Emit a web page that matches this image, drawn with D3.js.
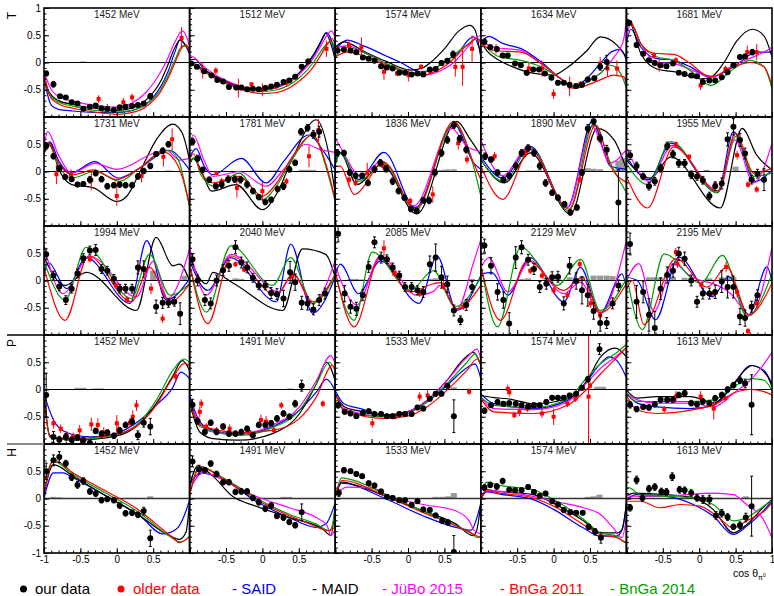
<!DOCTYPE html>
<html>
<head>
<meta charset="utf-8">
<script src="https://cdn.jsdelivr.net/npm/d3@7"></script>
<style>
  body { margin: 0; background: #fff; }
  svg { display: block; }
  text { font-family: "Liberation Sans", Arial, Helvetica, sans-serif; }
</style>
</head>
<body>
<svg id="chart" width="774" height="596"></svg>
<script>
// Panel titles, row by row (5 columns): T, T, T, P, H
const panelTitles = [
  "1452 MeV", "1512 MeV", "1574 MeV", "1634 MeV", "1681 MeV",
  "1731 MeV", "1781 MeV", "1836 MeV", "1890 MeV", "1955 MeV",
  "1994 MeV", "2040 MeV", "2085 MeV", "2129 MeV", "2195 MeV",
  "1452 MeV", "1491 MeV", "1533 MeV", "1574 MeV", "1613 MeV",
  "1452 MeV", "1491 MeV", "1533 MeV", "1574 MeV", "1613 MeV"
];
// Observable shown on the first row of each group
const rowObservables = [[0, "T"], [3, "P"], [4, "H"]];

// Model curves: per panel, list of [cos theta, value]
const said = [
  [[-1,-0.25],[-0.95,-0.6],[-0.9,-0.78],[-0.8,-0.86],[-0.6,-0.89],[-0.2,-0.92],[0.1,-0.91],[0.3,-0.84],[0.5,-0.64],[0.7,-0.18],[0.8,0.2],[0.87,0.42],[0.95,0.3],[1,0.15]],
  [[-1,0.02],[-0.9,-0.05],[-0.8,-0.14],[-0.5,-0.36],[-0.2,-0.48],[0,-0.5],[0.2,-0.45],[0.5,-0.2],[0.7,0.12],[0.8,0.36],[0.88,0.55],[0.95,0.4],[1,0.12]],
  [[-1,0.22],[-0.84,0.41],[-0.6,0.3],[-0.3,0.12],[-0.1,0],[0.17,-0.17],[0.3,-0.15],[0.49,0],[0.7,0.2],[0.85,0.44],[0.9,0.47],[1,0.16]],
  [[-1,0.35],[-0.89,0.48],[-0.7,0.35],[-0.44,0.25],[-0.17,0.01],[0.1,-0.3],[0.28,-0.44],[0.45,-0.3],[0.64,-0.02],[0.8,0.2],[0.92,0.24],[1,0.04]],
  [[-1,0.34],[-0.94,0.61],[-0.8,0.28],[-0.58,0.07],[-0.35,0.04],[-0.12,-0.08],[0.15,-0.27],[0.47,-0.08],[0.79,0.19],[1,0.19]],
  [[-1,0.33],[-0.92,0.55],[-0.8,0.2],[-0.64,-0.03],[-0.3,0.18],[0.02,-0.12],[0.3,0.05],[0.73,0.39],[0.9,0.2],[1,0.03]],
  [[-1,0.27],[-0.91,0.42],[-0.8,0.1],[-0.68,-0.06],[-0.29,0.24],[0.05,-0.21],[0.3,0.2],[0.64,0.67],[0.85,0.35],[1,0.03]],
  [[-1,0.16],[-0.93,0.34],[-0.68,-0.15],[-0.33,0.35],[0.1,-0.66],[0.63,0.88],[0.9,0.16],[1,0.04]],
  [[-1,0.28],[-0.7,-0.12],[-0.32,0.46],[0.19,-0.66],[0.53,0.92],[0.78,0.1],[1,0.04]],
  [[-1,0.27],[-0.69,-0.15],[-0.39,0.52],[0.25,-0.39],[0.47,0.73],[0.77,-0.18],[1,0.03]],
  [[-1,0.12],[-0.94,0.33],[-0.69,-0.15],[-0.42,0.42],[0.18,-0.42],[0.41,0.73],[0.68,-0.36],[1,0.03]],
  [[-1,0.36],[-0.75,-0.18],[-0.44,0.42],[0.19,-0.39],[0.39,0.67],[0.69,-0.6],[1,0.06]],
  [[-1,0.09],[-0.93,0.3],[-0.68,-0.24],[-0.38,0.36],[0.15,-0.42],[0.4,0.45],[0.67,-0.55],[1,0.09]],
  [[-1,0.12],[-0.85,0.15],[-0.63,-0.27],[-0.32,0.42],[0.14,-0.39],[0.37,0.24],[0.64,-0.6],[0.94,0.12],[1,-0.15]],
  [[-1,0.06],[-0.85,0.0],[-0.6,-0.72],[-0.28,0.43],[0.18,-0.3],[0.41,0.07],[0.68,-0.63],[0.93,0.25],[1,0.0]],
  [[-1,-0.08],[-0.87,-0.56],[-0.69,-0.79],[-0.37,-0.87],[0,-0.8],[0.32,-0.56],[0.54,-0.29],[0.77,0.04],[0.88,0.32],[1,0.2]],
  [[-1,-0.11],[-0.86,-0.59],[-0.68,-0.75],[-0.32,-0.82],[0.14,-0.68],[0.51,-0.38],[0.74,-0.05],[0.88,0.19],[1,-0.02]],
  [[-1,-0.02],[-0.88,-0.26],[-0.65,-0.35],[-0.33,-0.47],[-0.01,-0.41],[0.26,-0.23],[0.53,0.07],[0.81,0.4],[0.92,0.47],[1,0.2]],
  [[-1,-0.08],[-0.82,-0.26],[-0.27,-0.35],[0.19,-0.2],[0.46,0.16],[0.64,0.47],[0.76,0.6],[0.87,0.53],[1,0.22]],
  [[-1,-0.07],[-0.85,-0.25],[-0.58,-0.32],[-0.12,-0.35],[0.2,-0.29],[0.47,0.08],[0.7,0.44],[0.89,0.35],[1,0.1]],
  [[-1,0],[-0.87,0.47],[-0.74,0.47],[-0.6,0.38],[-0.14,0.04],[0.32,-0.32],[0.63,-0.65],[0.82,-0.56],[0.95,-0.23],[1,-0.02]],
  [[-1,0.28],[-0.84,0.47],[-0.54,0.35],[-0.09,-0.05],[0.37,-0.35],[0.74,-0.53],[0.87,-0.47],[1,-0.08]],
  [[-1,0.04],[-0.91,0.28],[-0.3,-0.01],[0.21,-0.32],[0.66,-0.53],[0.87,-0.58],[0.94,-0.38],[1,-0.08]],
  [[-1,-0.02],[-0.92,0.12],[-0.74,0.08],[-0.28,-0.02],[0,-0.2],[0.41,-0.54],[0.64,-0.69],[0.87,-0.69],[0.94,-0.57],[1,-0.14]],
  [[-1,-0.02],[-0.86,0.07],[-0.45,0.04],[-0.08,-0.11],[0.19,-0.32],[0.47,-0.66],[0.65,-0.51],[0.92,-0.17],[1,-0.05]]
];

const maid = [
  [[-1,-0.2],[-0.95,-0.48],[-0.9,-0.6],[-0.8,-0.7],[-0.6,-0.77],[-0.3,-0.84],[0,-0.88],[0.2,-0.84],[0.4,-0.69],[0.6,-0.35],[0.7,-0.05],[0.8,0.28],[0.87,0.41],[0.95,0.3],[1,0.2]],
  [[-1,0.05],[-0.93,0.06],[-0.8,-0.12],[-0.5,-0.34],[-0.2,-0.47],[0,-0.49],[0.2,-0.44],[0.5,-0.2],[0.7,0.14],[0.8,0.38],[0.87,0.54],[0.95,0.3],[1,0.05]],
  [[-1,0.28],[-0.88,0.38],[-0.6,0.2],[-0.3,0.02],[0.03,-0.14],[0.2,-0.1],[0.31,0],[0.5,0.25],[0.7,0.58],[0.85,0.68],[0.92,0.6],[1,0.1]],
  [[-1,0.38],[-0.92,0.22],[-0.75,0.04],[-0.56,-0.08],[-0.27,-0.2],[0,-0.23],[0.17,-0.11],[0.46,0.22],[0.64,0.47],[0.87,0.32],[1,0.1]],
  [[-1,0.52],[-0.96,0.73],[-0.8,0.16],[-0.58,-0.12],[-0.3,-0.18],[0.02,-0.3],[0.16,-0.27],[0.34,0.0],[0.52,0.4],[0.73,0.61],[0.89,0.49],[1,0.1]],
  [[-1,0.33],[-0.92,0.52],[-0.8,0.05],[-0.62,-0.24],[-0.32,-0.3],[0,-0.55],[0.14,-0.45],[0.32,0],[0.55,0.6],[0.77,0.87],[0.9,0.7],[1,0.2]],
  [[-1,0.15],[-0.95,0.24],[-0.85,0.05],[-0.7,-0.36],[-0.36,-0.24],[0,-0.7],[0.2,-0.4],[0.4,0.2],[0.74,0.95],[0.9,0.4],[1,-0.4]],
  [[-1,0.16],[-0.93,0.34],[-0.7,-0.24],[-0.36,0.13],[0.12,-0.78],[0.67,0.92],[0.85,0.6],[1,0.3]],
  [[-1,0.22],[-0.68,-0.21],[-0.32,0.34],[0.23,-0.78],[0.6,0.79],[0.83,0.58],[1,0.04]],
  [[-1,0.21],[-0.67,-0.12],[-0.39,0.27],[0.29,-0.67],[0.59,0.79],[0.79,0.3],[1,0.03]],
  [[-1,0.42],[-0.71,-0.09],[-0.42,0.15],[0.27,-0.55],[0.54,0.79],[0.77,0.27],[0.86,0.3],[1,0]],
  [[-1,0.42],[-0.77,-0.06],[-0.68,0.15],[-0.4,-0.05],[0.28,-0.55],[0.55,0.58],[0.87,0.48],[1,0.06]],
  null, null, null,
  [[-1,-0.05],[-0.92,-0.84],[-0.6,-0.93],[0,-0.85],[0.32,-0.62],[0.54,-0.26],[0.77,0.25],[0.9,0.53],[1,0.35]],
  [[-1,-0.23],[-0.86,-0.78],[-0.68,-0.9],[-0.32,-0.93],[0.14,-0.81],[0.51,-0.44],[0.74,0.1],[0.88,0.5],[1,0.16]],
  [[-1,-0.08],[-0.88,-0.31],[-0.65,-0.4],[-0.33,-0.47],[-0.01,-0.41],[0.26,-0.2],[0.53,0.16],[0.76,0.55],[0.9,0.68],[1,0.45]],
  [[-1,-0.11],[-0.82,-0.15],[-0.63,-0.17],[-0.27,-0.26],[0.19,-0.17],[0.46,0.16],[0.64,0.59],[0.85,0.76],[1,0.6]],
  [[-1,-0.01],[-0.85,-0.16],[-0.58,-0.13],[-0.12,-0.13],[0.2,-0.25],[0.47,0.11],[0.73,0.44],[0.93,0.26],[1,0.05]],
  [[-1,0.1],[-0.87,0.62],[-0.6,0.41],[-0.14,0.04],[0.32,-0.32],[0.68,-0.65],[0.86,-0.75],[0.95,-0.62],[1,-0.05]],
  [[-1,0.22],[-0.89,0.6],[-0.68,0.41],[-0.41,0.04],[-0.09,-0.14],[0.37,-0.35],[0.83,-0.56],[0.94,-0.68],[1,-0.14]],
  [[-1,0.03],[-0.91,0.3],[-0.71,0.24],[-0.3,0.04],[0.21,-0.23],[0.66,-0.47],[0.89,-0.68],[0.94,-0.6],[1,-0.1]],
  [[-1,0.0],[-0.92,0.16],[-0.74,0.13],[-0.28,0.07],[0,-0.09],[0.41,-0.41],[0.64,-0.63],[0.87,-0.63],[0.94,-0.57],[1,-0.08]],
  [[-1,0.05],[-0.9,0.1],[-0.45,0.07],[-0.08,0.01],[0.19,-0.2],[0.47,-0.63],[0.65,-0.48],[0.92,-0.11],[1,-0.02]]
];

const jubo = [
  [[-1,-0.15],[-0.95,-0.35],[-0.9,-0.5],[-0.8,-0.62],[-0.6,-0.71],[-0.3,-0.79],[0,-0.82],[0.2,-0.75],[0.4,-0.55],[0.6,-0.18],[0.7,0.08],[0.8,0.38],[0.9,0.58],[0.95,0.5],[1,0.3]],
  [[-1,0.13],[-0.95,0.1],[-0.8,-0.08],[-0.5,-0.33],[-0.2,-0.47],[0,-0.5],[0.2,-0.46],[0.5,-0.23],[0.7,0.08],[0.8,0.3],[0.95,0.58],[1,0.45]],
  [[-1,0.25],[-0.84,0.31],[-0.6,0.18],[-0.3,-0.02],[0.21,-0.23],[0.45,-0.15],[0.63,0],[0.8,0.25],[0.95,0.47],[1,0.5]],
  [[-1,0.4],[-0.82,0.28],[-0.45,0.22],[-0.17,-0.02],[0.1,-0.3],[0.28,-0.47],[0.45,-0.35],[0.64,-0.2],[0.83,0.1],[0.96,0.41],[1,0.77]],
  [[-1,0.46],[-0.94,0.7],[-0.8,0.34],[-0.58,0.0],[-0.35,-0.02],[-0.03,-0.18],[0.16,-0.27],[0.47,-0.05],[0.79,0.13],[0.93,0.22],[1,0.28]],
  [[-1,0.45],[-0.95,0.73],[-0.8,0.3],[-0.62,-0.03],[-0.3,0.15],[0,0.04],[0.5,0.33],[0.68,0.39],[0.86,0.21],[1,0.24]],
  [[-1,0.45],[-0.95,0.67],[-0.8,0.2],[-0.68,-0.09],[-0.5,-0.05],[-0.32,0.0],[0.05,-0.27],[0.3,0.05],[0.6,0.5],[0.8,0.4],[1,0.35]],
  [[-1,0.61],[-0.93,0.45],[-0.65,-0.08],[-0.36,0.19],[0.08,-0.63],[0.6,0.79],[0.81,0.46],[1,0.37]],
  [[-1,0.58],[-0.7,-0.08],[-0.34,0.46],[0.19,-0.66],[0.53,0.82],[0.78,0.16],[1,0.4]],
  [[-1,0.45],[-0.69,-0.18],[-0.37,0.48],[0.27,-0.36],[0.49,0.58],[0.75,-0.21],[1,0.52]],
  [[-1,0.64],[-0.74,-0.24],[-0.37,0.45],[0.27,-0.3],[0.5,0.35],[0.7,-0.33],[1,0.58]],
  [[-1,0.61],[-0.77,-0.27],[-0.43,0.48],[0.23,-0.21],[0.42,0.12],[0.69,-0.42],[1,0.36]],
  [[-1,0.27],[-0.7,-0.45],[-0.38,0.45],[0.12,-0.27],[0.35,-0.2],[0.44,-0.09],[0.67,-0.53],[0.9,0.33],[1,0.75]],
  [[-1,0.24],[-0.89,0.42],[-0.63,-0.21],[-0.32,0.36],[0.14,-0.24],[0.37,-0.03],[0.64,-0.6],[1,0.73]],
  [[-1,0.0],[-0.83,0.31],[-0.62,-0.57],[-0.35,0.31],[-0.12,0.08],[0.3,-0.12],[0.43,-0.24],[0.7,-0.63],[1,0.61]],
  null,
  [[-1,-0.17],[-0.86,-0.62],[-0.68,-0.78],[-0.32,-0.81],[0.14,-0.65],[0.51,-0.32],[0.74,0.16],[0.94,0.62],[1,0.47]],
  [[-1,-0.08],[-0.88,-0.35],[-0.33,-0.49],[-0.01,-0.41],[0.26,-0.2],[0.53,0.16],[0.81,0.59],[0.95,0.74],[1,0.55]],
  [[-1,-0.14],[-0.82,-0.35],[-0.27,-0.37],[0.19,-0.23],[0.46,0.13],[0.64,0.38],[0.87,0.62],[1,0.77]],
  [[-1,-0.07],[-0.85,-0.19],[-0.58,-0.25],[-0.12,-0.25],[0.2,-0.32],[0.47,-0.07],[0.7,0.17],[0.89,0.47],[1,0.68]],
  null,
  [[-1,0.16],[-0.82,0.47],[-0.54,0.35],[-0.09,0.04],[0.37,-0.17],[0.74,-0.35],[0.89,-0.5],[0.94,-0.68],[1,-0.56]],
  [[-1,0.04],[-0.84,0.21],[-0.48,0.19],[-0.3,0.07],[0.21,-0.11],[0.66,-0.23],[0.84,-0.41],[0.91,-0.59],[1,-0.65]],
  [[-1,0.0],[-0.92,0.15],[-0.74,0.13],[-0.28,0.04],[0,-0.05],[0.41,-0.17],[0.64,-0.29],[0.82,-0.54],[0.94,-0.72],[1,-0.33]],
  [[-1,0.05],[-0.81,0.04],[-0.45,0.04],[-0.17,0.07],[0.19,0.1],[0.47,0.07],[0.65,-0.11],[0.88,-0.38],[1,-0.72]]
];

const bnga2011 = [
  [[-1,-0.22],[-0.95,-0.52],[-0.9,-0.66],[-0.8,-0.76],[-0.6,-0.84],[-0.3,-0.91],[0,-0.95],[0.2,-0.92],[0.4,-0.81],[0.6,-0.54],[0.7,-0.3],[0.8,0],[0.9,0.28],[0.95,0.33],[1,0.22]],
  [[-1,0],[-0.9,-0.08],[-0.8,-0.16],[-0.5,-0.37],[-0.2,-0.53],[0,-0.57],[0.2,-0.55],[0.5,-0.35],[0.7,-0.08],[0.8,0.13],[0.9,0.35],[0.96,0.44],[1,0.3]],
  [[-1,0.1],[-0.84,0.19],[-0.6,0.12],[-0.3,-0.05],[0.17,-0.23],[0.4,-0.15],[0.57,0],[0.8,0.3],[0.95,0.44],[1,0.35]],
  [[-1,0.35],[-0.82,0.22],[-0.45,0.19],[-0.17,-0.02],[0.1,-0.3],[0.28,-0.47],[0.64,-0.32],[0.82,-0.23],[0.96,-0.26],[1,-0.38]],
  [[-1,0.64],[-0.95,0.75],[-0.8,0.34],[-0.62,0.17],[-0.35,0.15],[-0.12,-0.02],[0.11,-0.24],[0.2,-0.25],[0.47,-0.08],[0.7,0],[0.89,-0.08],[1,-0.42]],
  [[-1,0.33],[-0.94,0.52],[-0.8,0.15],[-0.6,-0.06],[-0.32,0.03],[0,-0.15],[0.3,0.05],[0.63,0.36],[0.8,0.2],[0.9,-0.1],[1,-0.64]],
  [[-1,0.21],[-0.95,0.33],[-0.85,0.0],[-0.68,-0.21],[-0.32,-0.09],[0,-0.45],[0.2,-0.2],[0.4,0.25],[0.69,0.67],[0.88,0.1],[1,-0.5]],
  [[-1,0.1],[-0.93,0.1],[-0.74,-0.42],[-0.33,0.17],[0.1,-0.69],[0.63,0.92],[0.9,0.16],[1,-0.15]],
  [[-1,0.1],[-0.7,-0.51],[-0.32,0.4],[0.21,-0.69],[0.58,0.85],[0.78,0.1],[1,-0.2]],
  [[-1,-0.09],[-0.71,-0.67],[-0.35,0.45],[0.25,-0.36],[0.5,0.7],[0.75,-0.03],[1,0.06]],
  [[-1,0.24],[-0.71,-0.73],[-0.39,0.45],[0.2,-0.39],[0.45,0.24],[0.73,-0.39],[1,-0.06]],
  [[-1,0.3],[-0.75,-0.79],[-0.43,0.45],[0.19,-0.27],[0.42,0.12],[0.69,-0.39],[1,0.12]],
  [[-1,0.18],[-0.74,-0.85],[-0.38,0.42],[0.03,-0.21],[0.35,-0.06],[0.44,-0.04],[0.67,-0.52],[1,-0.09]],
  [[-1,0.27],[-0.73,-0.73],[-0.36,0.36],[0.14,-0.18],[0.39,0.06],[0.64,-0.59],[1,-0.06]],
  [[-1,-0.18],[-0.92,0.0],[-0.76,-0.81],[-0.32,0.4],[0.11,-0.12],[0.38,0.25],[0.68,-0.63],[1,-0.05]],
  [[-1,-0.14],[-0.92,-0.87],[-0.6,-0.9],[0,-0.82],[0.32,-0.62],[0.54,-0.29],[0.77,0.22],[0.93,0.48],[1,0.44]],
  [[-1,-0.2],[-0.86,-0.65],[-0.32,-0.79],[0.14,-0.75],[0.51,-0.53],[0.74,-0.14],[0.96,0.44],[1,0.35]],
  [[-1,-0.08],[-0.88,-0.38],[-0.33,-0.53],[-0.01,-0.49],[0.26,-0.32],[0.53,-0.02],[0.81,0.35],[0.95,0.56],[1,0.45]],
  [[-1,-0.17],[-0.82,-0.41],[-0.27,-0.44],[0.19,-0.29],[0.46,0.01],[0.64,0.28],[0.87,0.59],[1,0.77]],
  [[-1,-0.1],[-0.85,-0.38],[-0.58,-0.44],[-0.12,-0.38],[0.25,-0.25],[0.47,-0.07],[0.7,0],[0.89,-0.04],[1,-0.1]],
  [[-1,0.05],[-0.87,0.71],[-0.6,0.47],[-0.14,0.13],[0.32,-0.23],[0.54,-0.47],[0.77,-0.72],[0.86,-0.81],[1,-0.7]],
  [[-1,0.05],[-0.86,0.58],[-0.54,0.36],[-0.09,-0.02],[0.6,-0.44],[0.92,-0.59],[0.99,-0.53],[1,-0.3]],
  [[-1,0.03],[-0.91,0.33],[-0.3,0.04],[0.21,-0.26],[0.66,-0.5],[0.89,-0.65],[1,-0.72]],
  [[-1,0.0],[-0.92,0.14],[-0.74,0.1],[-0.28,0.01],[0,-0.14],[0.41,-0.48],[0.64,-0.66],[0.87,-0.72],[1,-0.81]],
  [[-1,-0.05],[-0.81,-0.05],[-0.54,-0.17],[-0.26,-0.11],[0.01,-0.14],[0.24,-0.32],[0.47,-0.54],[0.65,-0.41],[0.92,-0.2],[1,-0.08]]
];

const bnga2014 = [
  [[-1,-0.22],[-0.95,-0.5],[-0.9,-0.63],[-0.8,-0.73],[-0.6,-0.8],[-0.3,-0.88],[0,-0.91],[0.2,-0.88],[0.4,-0.77],[0.6,-0.5],[0.7,-0.25],[0.8,0.05],[0.9,0.3],[0.95,0.3],[1,0.2]],
  [[-1,0],[-0.9,-0.08],[-0.8,-0.17],[-0.5,-0.39],[-0.2,-0.5],[0,-0.53],[0.2,-0.5],[0.5,-0.29],[0.7,0.0],[0.8,0.2],[0.9,0.36],[0.95,0.38],[1,0.25]],
  [[-1,0.1],[-0.86,0.28],[-0.6,0.18],[-0.3,-0.02],[0.12,-0.2],[0.35,-0.12],[0.49,0],[0.8,0.31],[0.95,0.44],[1,0.4]],
  [[-1,0.38],[-0.74,0.1],[-0.45,0.04],[-0.17,-0.08],[0.1,-0.3],[0.28,-0.44],[0.64,-0.2],[0.78,-0.05],[0.92,-0.2],[1,-0.47]],
  [[-1,0.58],[-0.95,0.73],[-0.8,0.34],[-0.58,0.1],[-0.35,0.04],[-0.12,-0.15],[0.16,-0.42],[0.47,-0.12],[0.7,0.04],[0.89,-0.08],[1,-0.48]],
  [[-1,0.33],[-0.94,0.5],[-0.8,0.1],[-0.62,-0.12],[-0.3,0],[0.04,-0.18],[0.3,0.05],[0.7,0.39],[0.85,0.2],[0.93,-0.2],[1,-0.64]],
  [[-1,0.15],[-0.93,0.25],[-0.85,-0.05],[-0.66,-0.27],[-0.32,-0.03],[0,-0.52],[0.2,-0.25],[0.4,0.2],[0.69,0.67],[0.88,0.05],[1,-0.55]],
  [[-1,0.1],[-0.93,0.34],[-0.68,-0.18],[-0.34,0.16],[0.1,-0.72],[0.63,0.88],[0.9,0.1],[1,-0.45]],
  [[-1,0.22],[-0.69,-0.18],[-0.32,0.43],[0.21,-0.72],[0.55,0.88],[0.78,0.16],[1,-0.39]],
  [[-1,0.15],[-0.71,-0.24],[-0.39,0.55],[0.25,-0.39],[0.5,0.64],[0.75,-0.09],[1,-0.03]],
  [[-1,0.36],[-0.71,-0.36],[-0.42,0.61],[0.2,-0.33],[0.45,0.48],[0.73,-0.27],[1,-0.06]],
  [[-1,0.3],[-0.77,-0.58],[-0.43,0.64],[0.14,-0.09],[0.39,0.42],[0.69,-0.42],[1,0.09]],
  [[-1,0.12],[-0.74,-0.73],[-0.49,0.52],[0.03,-0.18],[0.35,0.18],[0.65,-0.48],[1,0.06]],
  [[-1,0.3],[-0.77,-0.85],[-0.45,0.61],[0.05,-0.09],[0.37,0.39],[0.64,-0.55],[1,0.03]],
  [[-1,0.12],[-0.78,-0.9],[-0.48,0.49],[0.02,-0.05],[0.32,0.46],[0.66,-0.66],[1,0.12]],
  [[-1,-0.14],[-0.92,-0.87],[-0.6,-0.92],[0,-0.83],[0.32,-0.59],[0.54,-0.2],[0.77,0.35],[0.92,0.56],[1,0.5]],
  [[-1,-0.2],[-0.86,-0.68],[-0.32,-0.84],[0.14,-0.7],[0.51,-0.38],[0.74,0.1],[0.92,0.5],[1,0.35]],
  [[-1,-0.05],[-0.88,-0.38],[-0.33,-0.5],[-0.01,-0.44],[0.26,-0.23],[0.53,0.1],[0.81,0.5],[0.92,0.65],[1,0.45]],
  [[-1,-0.14],[-0.82,-0.29],[-0.27,-0.33],[0.19,-0.17],[0.46,0.22],[0.64,0.47],[0.87,0.68],[1,0.83]],
  [[-1,-0.07],[-0.85,-0.22],[-0.58,-0.22],[-0.12,-0.22],[0.2,-0.19],[0.47,0.05],[0.73,0.2],[0.89,0.17],[1,-0.01]],
  [[-1,0.28],[-0.87,0.68],[-0.6,0.44],[-0.14,0.09],[0.32,-0.27],[0.68,-0.65],[0.88,-0.8],[1,-0.69]],
  [[-1,0.07],[-0.86,0.59],[-0.54,0.38],[-0.09,0.01],[0.37,-0.29],[0.74,-0.47],[0.92,-0.59],[0.96,-0.5],[1,-0.11]],
  [[-1,0.04],[-0.91,0.38],[-0.71,0.32],[-0.3,0.07],[0.21,-0.23],[0.66,-0.5],[0.89,-0.65],[0.95,-0.72],[1,-0.68]],
  [[-1,0.1],[-0.92,0.3],[-0.74,0.24],[-0.28,0.16],[0,-0.02],[0.41,-0.38],[0.64,-0.63],[0.87,-0.69],[0.94,-0.78],[1,-0.81]],
  [[-1,0.15],[-0.97,0.2],[-0.81,0.07],[-0.45,0.04],[-0.08,0.01],[0.19,-0.11],[0.47,-0.41],[0.65,-0.35],[0.92,-0.11],[1,-0.05]]
];

// Measurements: [cos theta, value, error]
const ourData = [
  [[-0.97,-0.2,0.04],[-0.87,-0.4,0.05],[-0.78,-0.62,0.03],[-0.7,-0.64,0.03],[-0.62,-0.73,0.03],[-0.54,-0.75,0.03],[-0.46,-0.85,0.03],[-0.37,-0.81,0.03],[-0.29,-0.79,0.03],[-0.21,-0.84,0.03],[-0.13,-0.85,0.03],[-0.04,-0.87,0.03],[0.04,-0.82,0.03],[0.12,-0.81,0.03],[0.21,-0.8,0.03],[0.29,-0.78,0.03],[0.37,-0.75,0.03],[0.46,-0.62,0.05]],
  [[-0.98,-0.02,0.03],[-0.9,-0.08,0.03],[-0.8,-0.16,0.03],[-0.7,-0.24,0.03],[-0.62,-0.32,0.03],[-0.54,-0.35,0.03],[-0.46,-0.45,0.03],[-0.36,-0.46,0.03],[-0.29,-0.46,0.03],[-0.21,-0.49,0.03],[-0.13,-0.48,0.03],[-0.05,-0.49,0.03],[0.04,-0.47,0.03],[0.12,-0.44,0.03],[0.2,-0.41,0.03],[0.29,-0.36,0.03],[0.37,-0.33,0.03],[0.45,-0.26,0.03],[0.54,-0.08,0.03],[0.63,0.02,0.04]],
  [[-0.97,0.22,0.04],[-0.88,0.24,0.03],[-0.79,0.22,0.03],[-0.71,0.19,0.03],[-0.62,0.09,0.03],[-0.54,0.07,0.03],[-0.46,0.03,0.03],[-0.37,-0.07,0.03],[-0.29,-0.09,0.03],[-0.21,-0.11,0.03],[-0.12,-0.19,0.03],[-0.04,-0.19,0.03],[0.05,-0.22,0.03],[0.13,-0.2,0.03],[0.21,-0.22,0.03],[0.3,-0.13,0.03],[0.38,-0.12,0.04],[0.46,-0.01,0.04],[0.54,0.03,0.04],[0.62,0.15,0.06]],
  [[-0.95,0.38,0.05],[-0.87,0.28,0.04],[-0.78,0.25,0.04],[-0.7,0.13,0.03],[-0.63,0.13,0.03],[-0.53,-0.02,0.03],[-0.45,-0.05,0.03],[-0.37,-0.19,0.04],[-0.28,-0.13,0.03],[-0.2,-0.13,0.03],[-0.12,-0.2,0.03],[-0.03,-0.28,0.03],[0.06,-0.37,0.04],[0.14,-0.37,0.04],[0.22,-0.41,0.04],[0.31,-0.43,0.04],[0.39,-0.41,0.04],[0.47,-0.31,0.04],[0.56,-0.29,0.04],[0.64,-0.08,0.06],[0.73,0.01,0.12]],
  [[-0.96,0.73,0.04],[-0.86,0.32,0.04],[-0.77,0.16,0.03],[-0.69,0.04,0.03],[-0.61,-0.01,0.03],[-0.53,-0.05,0.03],[-0.45,-0.07,0.03],[-0.36,-0.02,0.03],[-0.28,-0.19,0.03],[-0.2,-0.21,0.03],[-0.11,-0.24,0.03],[-0.03,-0.25,0.03],[0.05,-0.36,0.03],[0.14,-0.33,0.03],[0.22,-0.33,0.03],[0.31,-0.27,0.03],[0.39,-0.18,0.03],[0.47,-0.05,0.03],[0.56,0.1,0.03],[0.63,0.11,0.04],[0.73,0.19,0.05]],
  [[-0.97,0.47,0.06],[-0.87,0.28,0.05],[-0.79,0.06,0.04],[-0.71,-0.1,0.04],[-0.62,-0.14,0.04],[-0.54,-0.24,0.04],[-0.46,-0.23,0.04],[-0.37,-0.15,0.06],[-0.29,-0.03,0.05],[-0.21,-0.14,0.05],[-0.13,-0.27,0.05],[-0.04,-0.25,0.05],[0.04,-0.24,0.05],[0.12,-0.25,0.05],[0.21,-0.25,0.05],[0.29,-0.09,0.05],[0.37,0.01,0.05],[0.46,0.1,0.05],[0.54,0.32,0.04],[0.63,0.38,0.05],[0.71,0.5,0.05]],
  [[-0.96,0.55,0.06],[-0.89,0.24,0.06],[-0.82,0.03,0.05],[-0.73,-0.15,0.05],[-0.64,-0.27,0.05],[-0.56,-0.24,0.05],[-0.47,-0.14,0.06],[-0.38,-0.14,0.06],[-0.3,-0.15,0.06],[-0.21,-0.24,0.06],[-0.13,-0.36,0.05],[-0.05,-0.47,0.05],[0.04,-0.56,0.05],[0.12,-0.52,0.05],[0.21,-0.32,0.05],[0.29,-0.27,0.06],[0.37,0.04,0.05],[0.45,0.16,0.05],[0.53,0.73,0.06],[0.62,0.8,0.06],[0.7,0.68,0.07],[0.78,0.73,0.1]],
  [[-0.97,0.34,0.06],[-0.88,0.34,0.05],[-0.8,-0.02,0.05],[-0.72,-0.08,0.05],[-0.63,-0.08,0.05],[-0.55,-0.21,0.05],[-0.46,0.04,0.06],[-0.38,0.16,0.06],[-0.3,0.05,0.06],[-0.21,-0.18,0.06],[-0.13,-0.36,0.05],[-0.05,-0.48,0.05],[0.04,-0.69,0.05],[0.12,-0.72,0.05],[0.21,-0.53,0.05],[0.29,-0.53,0.06],[0.37,-0.02,0.06],[0.46,0.34,0.06],[0.54,0.58,0.06],[0.63,0.85,0.06],[0.71,0.6,0.06],[0.8,0.4,0.06]],
  [[-0.94,0.28,0.06],[-0.86,0.22,0.05],[-0.77,-0.02,0.05],[-0.69,-0.15,0.05],[-0.61,-0.08,0.05],[-0.52,0.1,0.06],[-0.44,0.34,0.06],[-0.35,0.43,0.06],[-0.27,0.34,0.06],[-0.19,0.1,0.06],[-0.11,-0.21,0.06],[-0.02,-0.39,0.05],[0.06,-0.48,0.05],[0.15,-0.6,0.05],[0.23,-0.75,0.05],[0.32,-0.66,0.05],[0.39,-0.02,0.05],[0.47,0.79,0.07],[0.55,0.92,0.07],[0.64,0.61,0.07],[0.73,0.4,0.08],[0.89,-0.57,0.6]],
  [[-0.95,0.3,0.08],[-0.86,0.1,0.07],[-0.77,-0.09,0.06],[-0.69,-0.27,0.07],[-0.61,-0.18,0.07],[-0.53,0.06,0.07],[-0.44,0.47,0.07],[-0.36,0.32,0.07],[-0.28,0.15,0.07],[-0.2,0.15,0.07],[-0.11,-0.06,0.07],[-0.03,-0.09,0.07],[0.05,-0.16,0.07],[0.14,-0.45,0.07],[0.22,-0.27,0.08],[0.31,-0.22,0.1],[0.39,0.59,0.12],[0.47,0.82,0.15],[0.56,0.58,0.12],[0.63,0.33,0.1],[0.72,-0.15,0.08],[0.8,-0.04,0.08],[0.89,-0.15,0.2]],
  [[-0.97,0.48,0.1],[-0.87,0.09,0.08],[-0.79,-0.11,0.08],[-0.7,-0.36,0.08],[-0.62,-0.15,0.08],[-0.54,0.13,0.08],[-0.46,0.41,0.08],[-0.37,0.55,0.08],[-0.29,0.56,0.1],[-0.21,0.21,0.08],[-0.13,0.18,0.08],[-0.04,0.03,0.08],[0.04,-0.15,0.08],[0.12,-0.15,0.08],[0.21,-0.15,0.08],[0.29,0.24,0.12],[0.37,0.21,0.15],[0.54,-0.48,0.12],[0.63,-0.41,0.1],[0.71,-0.41,0.08],[0.79,-0.39,0.08],[0.87,-0.61,0.2]],
  [[-0.96,0.39,0.1],[-0.89,0,0.1],[-0.79,-0.36,0.1],[-0.71,-0.42,0.1],[-0.63,0,0.1],[-0.54,0.19,0.1],[-0.46,0.27,0.1],[-0.37,0.61,0.12],[-0.29,0.33,0.1],[-0.21,0.24,0.1],[-0.13,0.05,0.08],[-0.05,-0.09,0.08],[0.04,-0.09,0.08],[0.12,-0.23,0.1],[0.2,-0.25,0.1],[0.29,-0.33,0.15],[0.38,0.15,0.2],[0.45,-0.03,0.15],[0.54,-0.41,0.12],[0.62,-0.42,0.12],[0.7,-0.53,0.1],[0.78,-0.36,0.1],[0.86,-0.24,0.1]],
  [[-0.96,0.86,0.15],[-0.87,-0.24,0.15],[-0.79,-0.48,0.12],[-0.71,-0.52,0.12],[-0.62,-0.27,0.1],[-0.54,0.25,0.1],[-0.46,0.7,0.1],[-0.37,0.42,0.1],[-0.29,0.39,0.08],[-0.21,0.24,0.08],[-0.12,0.09,0.08],[-0.04,-0.12,0.08],[0.05,-0.12,0.08],[0.13,-0.18,0.08],[0.21,-0.21,0.1],[0.3,0.3,0.15],[0.38,0.42,0.25],[0.46,0.06,0.2],[0.54,-0.07,0.15],[0.63,-0.55,0.1],[0.72,-0.73,0.08],[0.8,-0.45,0.1],[0.88,-0.12,0.1]],
  [[-0.95,0.64,0.12],[-0.86,0.27,0.15],[-0.77,-0.21,0.15],[-0.69,-0.36,0.15],[-0.61,-0.79,0.2],[-0.52,0.42,0.2],[-0.44,0.61,0.12],[-0.35,0.38,0.1],[-0.27,0.21,0.1],[-0.19,-0.12,0.1],[-0.1,-0.06,0.1],[-0.02,0.06,0.1],[0.06,0.07,0.1],[0.14,-0.42,0.12],[0.22,0.27,0.15],[0.31,-0.01,0.15],[0.39,-0.18,0.25],[0.47,-0.27,0.2],[0.55,-0.56,0.15],[0.64,-0.78,0.15],[0.73,-0.78,0.1],[0.81,-0.42,0.1],[0.89,-0.09,0.1]],
  [[-0.95,0.67,0.2],[-0.86,-0.39,0.3],[-0.77,-0.21,0.2],[-0.69,-0.63,0.3],[-0.61,-0.87,0.3],[-0.53,-0.15,0.2],[-0.44,0.1,0.15],[-0.36,0.18,0.12],[-0.28,0.49,0.12],[-0.2,0.4,0.12],[-0.11,0,0.1],[-0.03,-0.39,0.1],[0.05,-0.24,0.1],[0.14,-0.24,0.1],[0.22,-0.21,0.12],[0.31,-0.02,0.2],[0.39,-0.12,0.2],[0.47,-0.12,0.2],[0.56,-0.66,0.15],[0.63,-0.69,0.15],[0.72,-0.48,0.1],[0.8,-0.27,0.1]],
  [[-0.97,-0.1,0.4],[-0.87,-0.87,0.1],[-0.79,-0.92,0.06],[-0.7,-0.87,0.06],[-0.62,-0.92,0.05],[-0.54,-0.88,0.05],[-0.46,-0.93,0.05],[-0.37,-0.98,0.05],[-0.29,-0.76,0.05],[-0.21,-0.81,0.05],[-0.13,-0.79,0.05],[-0.04,-0.85,0.05],[0.04,-0.75,0.05],[0.12,-0.65,0.05],[0.21,-0.59,0.06],[0.29,-0.84,0.08],[0.37,-0.61,0.08],[0.46,-0.68,0.15]],
  [[-0.96,-0.28,0.1],[-0.89,-0.58,0.06],[-0.79,-0.78,0.05],[-0.71,-0.61,0.05],[-0.63,-0.78,0.05],[-0.54,-0.68,0.05],[-0.46,-0.81,0.05],[-0.37,-0.81,0.05],[-0.29,-0.78,0.05],[-0.21,-0.72,0.05],[-0.13,-0.84,0.05],[-0.05,-0.65,0.05],[0.04,-0.65,0.05],[0.12,-0.62,0.05],[0.2,-0.53,0.05],[0.29,-0.44,0.05],[0.37,-0.5,0.05],[0.45,-0.26,0.06],[0.54,0.07,0.1]],
  [[-0.96,-0.29,0.05],[-0.87,-0.41,0.04],[-0.79,-0.44,0.04],[-0.71,-0.49,0.04],[-0.62,-0.43,0.04],[-0.54,-0.4,0.04],[-0.46,-0.45,0.04],[-0.37,-0.45,0.04],[-0.29,-0.49,0.04],[-0.21,-0.49,0.04],[-0.12,-0.45,0.04],[-0.04,-0.45,0.04],[0.05,-0.45,0.04],[0.13,-0.33,0.04],[0.21,-0.35,0.04],[0.3,-0.17,0.04],[0.38,-0.08,0.04],[0.46,-0.08,0.04],[0.54,0.07,0.04],[0.63,-0.49,0.3]],
  [[-0.95,-0.39,0.05],[-0.86,-0.29,0.04],[-0.77,-0.23,0.04],[-0.69,-0.26,0.04],[-0.61,-0.25,0.04],[-0.52,-0.26,0.04],[-0.44,-0.29,0.04],[-0.35,-0.31,0.04],[-0.27,-0.29,0.04],[-0.19,-0.29,0.04],[-0.1,-0.23,0.04],[-0.02,-0.15,0.04],[0.06,-0.15,0.04],[0.14,-0.15,0.04],[0.22,-0.11,0.04],[0.31,-0.08,0.04],[0.39,0.03,0.04],[0.47,0.19,0.05],[0.63,0.74,0.1]],
  [[-0.95,-0.28,0.06],[-0.86,-0.36,0.05],[-0.77,-0.32,0.05],[-0.69,-0.33,0.05],[-0.61,-0.27,0.05],[-0.53,-0.19,0.05],[-0.44,-0.19,0.05],[-0.36,-0.19,0.05],[-0.28,-0.1,0.05],[-0.2,-0.07,0.05],[-0.11,-0.25,0.05],[-0.03,-0.27,0.05],[0.05,-0.22,0.05],[0.14,-0.25,0.05],[0.22,-0.16,0.05],[0.31,-0.1,0.05],[0.39,0,0.05],[0.47,0.08,0.05],[0.56,0.17,0.06],[0.63,0.11,0.08],[0.72,-0.28,0.55]],
  [[-0.97,0.5,0.15],[-0.87,0.7,0.1],[-0.79,0.76,0.1],[-0.7,0.64,0.06],[-0.62,0.39,0.06],[-0.54,0.25,0.06],[-0.46,0.32,0.06],[-0.37,0.13,0.05],[-0.29,0.09,0.05],[-0.21,-0.03,0.05],[-0.13,-0.01,0.05],[-0.04,-0.03,0.05],[0.04,-0.13,0.05],[0.12,-0.27,0.05],[0.21,-0.26,0.05],[0.29,-0.3,0.05],[0.37,-0.23,0.07],[0.46,-0.73,0.15]],
  [[-0.96,0.68,0.1],[-0.87,0.53,0.08],[-0.79,0.52,0.05],[-0.71,0.64,0.05],[-0.63,0.45,0.05],[-0.54,0.3,0.05],[-0.46,0.3,0.05],[-0.37,0.12,0.05],[-0.29,0.13,0.05],[-0.21,0.13,0.05],[-0.13,0.01,0.05],[-0.05,-0.07,0.05],[0.04,-0.19,0.05],[0.12,-0.13,0.05],[0.2,-0.32,0.05],[0.29,-0.35,0.05],[0.37,-0.43,0.05],[0.45,-0.49,0.05],[0.54,-0.25,0.15]],
  [[-0.95,0.1,0.06],[-0.88,0.52,0.05],[-0.79,0.5,0.04],[-0.71,0.45,0.04],[-0.63,0.41,0.04],[-0.54,0.28,0.04],[-0.46,0.24,0.04],[-0.37,0.13,0.04],[-0.29,0.03,0.04],[-0.21,0.01,0.04],[-0.12,-0.03,0.04],[-0.04,-0.03,0.04],[0.05,-0.12,0.04],[0.13,-0.05,0.04],[0.21,-0.2,0.04],[0.3,-0.21,0.04],[0.38,-0.31,0.04],[0.47,-0.41,0.05],[0.55,-0.44,0.05],[0.63,-0.98,0.3]],
  [[-0.95,0.2,0.05],[-0.87,0.25,0.05],[-0.78,0.22,0.05],[-0.7,0.32,0.05],[-0.61,0.16,0.04],[-0.53,0.15,0.04],[-0.44,0.15,0.04],[-0.35,0.21,0.04],[-0.27,0.12,0.04],[-0.19,0.05,0.04],[-0.11,0.09,0.04],[-0.02,-0.05,0.04],[0.06,-0.11,0.04],[0.14,-0.21,0.04],[0.23,-0.25,0.04],[0.31,-0.26,0.04],[0.4,-0.26,0.04],[0.48,-0.52,0.05],[0.57,-0.61,0.06],[0.65,-0.72,0.1]],
  [[-0.95,-0.17,0.06],[-0.86,0.34,0.07],[-0.78,0.01,0.06],[-0.69,0.18,0.06],[-0.61,0.21,0.06],[-0.52,0.13,0.06],[-0.45,0.12,0.06],[-0.37,0.4,0.07],[-0.27,0.16,0.06],[-0.2,0.15,0.06],[-0.11,0.1,0.06],[-0.03,0.01,0.06],[0.05,-0.02,0.07],[0.14,-0.02,0.08],[0.23,-0.31,0.07],[0.31,-0.27,0.07],[0.39,-0.34,0.06],[0.47,-0.52,0.05],[0.56,-0.49,0.06],[0.64,-0.35,0.08],[0.72,-0.14,0.55]]
];

const olderData = [
  [[-0.25,-0.67,0.07],[-0.13,-0.84,0.08],[0.09,-0.73,0.08],[0.21,-0.64,0.07],[0.89,0.45,0.2]],
  [[-0.82,-0.15,0.15],[-0.64,-0.15,0.06],[-0.33,-0.47,0.17],[-0.15,-0.4,0.04],[0,-0.5,0.12],[0.05,-0.47,0.06],[0.18,-0.44,0.04],[0.33,-0.37,0.07],[0.63,0.03,0.04],[0.88,0.25,0.15]],
  [[-0.81,0.32,0.09],[-0.64,0.28,0.18],[-0.33,-0.17,0.15],[-0.15,-0.2,0.05],[0.01,-0.23,0.12],[0.18,-0.08,0.05],[0.31,-0.17,0.05],[0.65,-0.08,0.18],[0.75,-0.08,0.35],[0.88,0.25,0.25]],
  [[-0.79,0.25,0.09],[-0.34,-0.11,0.12],[-0.16,-0.11,0.15],[0,-0.58,0.09],[0.22,-0.44,0.18],[0.37,-0.39,0.05],[0.64,-0.02,0.12],[0.74,-0.11,0.15],[0.87,-0.11,0.15]],
  [[-0.62,0.13,0.06],[-0.55,-0.05,0.12],[-0.32,0.04,0.06],[0.02,-0.42,0.09],[0.36,-0.12,0.06],[0.66,0.19,0.12],[0.79,0.19,0.15]],
  [[-0.83,-0.05,0.18],[-0.63,-0.06,0.1],[-0.35,-0.16,0.18],[0,-0.45,0.18],[0.34,-0.08,0.12],[0.64,0.27,0.18],[0.76,0.59,0.2]],
  [[-0.63,-0.03,0.04],[-0.56,-0.18,0.06],[-0.35,-0.3,0.18],[0,-0.36,0.18],[0.33,-0.18,0.06],[0.64,0.28,0.2],[0.77,0.76,0.2]],
  [[-0.81,-0.15,0.1],[-0.72,-0.21,0.06],[-0.56,-0.02,0.18],[-0.34,0.1,0.06],[0.03,-0.54,0.06],[0.34,-0.42,0.15],[0.69,0.52,0.12],[0.81,0.22,0.08]],
  [[-0.81,0.28,0.08],[-0.38,0.34,0.06],[0.36,-0.15,0.06],[0.62,0.61,0.06]],
  [[-0.32,0.5,0.05],[-0.14,0.27,0.05],[0.05,-0.18,0.06],[0.22,-0.24,0.06],[0.52,0.3,0.08],[0.67,-0.24,0.06],[0.79,-0.33,0.06]],
  [[-0.37,0.39,0.06],[-0.01,-0.09,0.06],[0.14,-0.35,0.06],[0.31,0.24,0.08],[0.47,-0.15,0.1],[0.63,-0.7,0.08],[0.77,-0.39,0.06]],
  [[-0.37,0.3,0.05],[-0.25,0.2,0.05],[0.4,0.07,0.05]],
  [[-0.33,0.59,0.15],[-0.19,0.13,0.06],[0.16,-0.24,0.06],[0.49,-0.09,0.08],[0.76,-0.48,0.06]],
  [[-0.32,0.18,0.06],[-0.16,0.09,0.06],[0,-0.18,0.06],[0.19,-0.27,0.06],[0.36,0.3,0.08],[0.51,-0.42,0.08],[0.64,-0.64,0.08]],
  [[-0.32,0.52,0.08],[-0.3,0.31,0.08],[0.03,-0.08,0.06],[0.2,-0.24,0.06],[0.37,0.25,0.1],[0.52,-0.21,0.1],[0.67,-0.93,0.06],[0.79,-0.42,0.08]],
  [[-0.87,-0.62,0.1],[-0.77,-0.72,0.08],[-0.69,-0.84,0.08],[-0.6,-0.87,0.08],[-0.51,-0.75,0.1],[-0.35,-0.64,0.12],[-0.26,-0.65,0.12],[-0.18,-0.79,0.1],[0,-0.62,0.15],[0.02,-0.75,0.1],[0.18,-0.61,0.08],[0.22,-0.5,0.12],[0.27,-0.29,0.1],[0.81,0.24,0.1]],
  [[-0.86,-0.41,0.1],[-0.84,-0.26,0.08],[-0.77,-0.68,0.06],[-0.63,-0.75,0.06],[-0.45,-0.72,0.08],[-0.18,-0.78,0.08],[-0.02,-0.56,0.1],[0.05,-0.59,0.1],[0.16,-0.75,0.06],[0.26,-0.29,0.06],[0.83,-0.26,0.06]],
  [[-0.49,-0.62,0.08],[-0.18,-0.5,0.05],[0.16,-0.13,0.08],[0.27,-0.11,0.1],[0.84,-0.04,0.06]],
  [[-0.63,0.01,0.08],[-0.61,-0.05,0.08],[-0.54,-0.47,0.06],[-0.47,-0.41,0.08],[-0.36,-0.35,0.06],[-0.29,-0.29,0.06],[-0.16,-0.44,0.08],[0,-0.5,0.15],[0.19,-0.26,0.06],[0.3,-0.17,0.06],[0.48,-0.13,1.2],[0.5,0.07,0.08]],
  [[-0.48,-0.36,0.06],[-0.32,-0.13,0.1],[0.02,-0.13,0.1],[0.2,-0.35,0.2],[0.36,-0.16,0.06]],
  [], [], [], [], []
];

// Systematic uncertainties: [cos theta, height]
const sysErr = [
  [[-0.46,0.02]], [], [], [], [],
  [[0.71,0.02]],
  [[-0.13,0.02],[-0.05,0.02],[0.12,0.02],[0.2,0.02],[0.54,0.03],[0.62,0.03],[0.7,0.03]],
  [[-0.54,0.015],[-0.46,0.015],[-0.37,0.015],[-0.29,0.015],[-0.21,0.015],[-0.12,0.015],[-0.04,0.015],[0.05,0.015],[0.13,0.015],[0.21,0.015],[0.3,0.015],[0.38,0.015],[0.46,0.03],[0.54,0.04],[0.63,0.04]],
  [[-0.35,0.02],[-0.27,0.02],[-0.19,0.02],[0.39,0.04],[0.47,0.06],[0.55,0.05],[0.64,0.04],[0.89,0.2],[0.95,0.25]],
  [[0.1,0.03],[0.5,0.09]],
  [[0.5,0.18],[0.93,0.09]],
  [[-0.37,0.04],[-0.29,0.03]],
  [[-0.79,0.03],[-0.71,0.03],[-0.62,0.02],[0.3,0.03],[0.38,0.04],[0.46,0.03],[0.88,0.03]],
  [[-0.44,0.03],[-0.35,0.04],[-0.1,0.05],[0.06,0.05],[0.22,0.06],[0.39,0.07],[0.55,0.09],[0.64,0.09],[0.73,0.09],[0.81,0.08]],
  [[-0.69,0.06],[-0.61,0.06],[-0.53,0.05],[-0.36,0.06],[-0.2,0.05],[0.14,0.04],[0.31,0.06],[0.39,0.06],[0.47,0.06]],
  [[-0.54,0.03],[-0.46,0.03],[-0.29,0.02],[-0.21,0.02]],
  [[0.38,0.02]],
  [[0.63,0.04]],
  [[0.6,0.05],[0.68,0.05]],
  [],
  [[-0.87,0.03],[-0.79,0.02],[0.46,0.04]],
  [[0.29,0.03],[0.37,0.03]],
  [[0.38,0.03],[0.47,0.03],[0.55,0.04],[0.63,0.1]],
  [[0.47,0.03],[0.55,0.04],[0.63,0.07]],
  [[0.05,0.03],[0.14,0.03],[0.64,0.04]]
];

const legendItems = [
  ["- SAID", "#0000ff", 232],
  ["- MAID", "#000000", 312],
  ["- JüBo 2015", "#ff00ff", 382],
  ["- BnGa 2011", "#ff0000", 500],
  ["- BnGa 2014", "#00a000", 610]
];

// ---------------------------------------------------------------
const svg = d3.select("#chart");
const gridLeft = 44, gridRight = 772, gridTop = 8, rowH = 109;
const colW = (gridRight - gridLeft) / 5;
const models = [
  [said, "#0000ff"], [maid, "#000000"], [jubo, "#ff00ff"],
  [bnga2014, "#00a000"], [bnga2011, "#ff0000"]
];
const minorTicks = d3.range(-10, 11).map(i => i / 10);
const majorTicks = [-1, -0.5, 0, 0.5, 1];
const defs = svg.append("defs");

panelTitles.forEach((title, p) => {
  const row = Math.floor(p / 5), col = p % 5;
  const left = gridLeft + col * colW, top = gridTop + row * rowH;
  const x = d3.scaleLinear().domain([-1, 1]).range([left, left + colW]);
  const y = d3.scaleLinear().domain([-1, 1]).range([top + rowH, top]);

  defs.append("clipPath").attr("id", "clip" + p)
    .append("rect").attr("x", left).attr("y", top).attr("width", colW).attr("height", rowH);

  const g = svg.append("g");
  const body = g.append("g").attr("clip-path", `url(#clip${p})`);

  // systematic uncertainty histogram
  body.selectAll("rect.sys").data(sysErr[p]).join("rect")
    .attr("class", "sys")
    .attr("x", d => x(d[0] - 0.042))
    .attr("width", x(0.083) - x(0))
    .attr("y", d => y(d[1]))
    .attr("height", d => y(0) - y(d[1]))
    .attr("fill", "#999");

  // zero line
  body.append("line")
    .attr("x1", left).attr("x2", left + colW)
    .attr("y1", y(0)).attr("y2", y(0))
    .attr("stroke", row === 4 ? "#333" : "#000")
    .attr("stroke-width", row === 4 ? 1.6 : 1.2);

  // model curves
  const line = d3.line().x(d => x(d[0])).y(d => y(d[1])).curve(d3.curveMonotoneX);
  models.forEach(([vals, colour]) => {
    if (!vals[p]) return;
    body.append("path").attr("d", line(vals[p]))
      .attr("fill", "none").attr("stroke", colour).attr("stroke-width", 1.2);
  });

  // older data (red squares)
  const older = body.append("g");
  older.selectAll("line").data(olderData[p]).join("line")
    .attr("x1", d => x(d[0])).attr("x2", d => x(d[0]))
    .attr("y1", d => y(d[1] - d[2])).attr("y2", d => y(d[1] + d[2]))
    .attr("stroke", "#ff0000").attr("stroke-width", 1);
  older.selectAll("rect").data(olderData[p]).join("rect")
    .attr("x", d => x(d[0]) - 2).attr("y", d => y(d[1]) - 2)
    .attr("width", 4).attr("height", 4).attr("fill", "#ff0000");

  // our data (black circles with capped bars)
  const ours = body.append("g");
  ours.selectAll("line.bar").data(ourData[p]).join("line")
    .attr("class", "bar")
    .attr("x1", d => x(d[0])).attr("x2", d => x(d[0]))
    .attr("y1", d => y(d[1] - d[2])).attr("y2", d => y(d[1] + d[2]))
    .attr("stroke", "#000").attr("stroke-width", 1);
  ours.selectAll("path.cap").data(ourData[p]).join("path")
    .attr("class", "cap")
    .attr("d", d => `M${x(d[0]) - 1.5},${y(d[1] - d[2])}h3M${x(d[0]) - 1.5},${y(d[1] + d[2])}h3`)
    .attr("stroke", "#000").attr("stroke-width", 1);
  ours.selectAll("circle").data(ourData[p]).join("circle")
    .attr("cx", d => x(d[0])).attr("cy", d => y(d[1])).attr("r", 3).attr("fill", "#000");

  // title
  g.append("text").attr("x", left + colW / 2).attr("y", top + 10)
    .attr("text-anchor", "middle").attr("font-size", 10).attr("fill", "#222")
    .text(title);

  // inward ticks on left and bottom edges
  const tickAxis = (axis, size) => axis.tickSizeInner(-size).tickSizeOuter(0).tickFormat("");
  [[minorTicks, 2.5], [majorTicks, 5]].forEach(([vals, size]) => {
    g.append("g").attr("transform", `translate(${left},0)`)
      .call(tickAxis(d3.axisLeft(y).tickValues(vals), size))
      .call(a => a.select(".domain").remove());
    g.append("g").attr("transform", `translate(0,${top + rowH})`)
      .call(tickAxis(d3.axisBottom(x).tickValues(vals), size))
      .call(a => a.select(".domain").remove());
  });

  // frame
  g.append("rect").attr("x", left).attr("y", top).attr("width", colW).attr("height", rowH)
    .attr("fill", "none").attr("stroke", "#000").attr("stroke-width", 1.6);

  // value labels on the first column
  if (col === 0) {
    let vals = [0.5, 0, -0.5];
    if (row === 0) vals = [1].concat(vals);
    if (row === 4) vals = vals.concat([-1]);
    const ax = g.append("g").attr("transform", `translate(${left},0)`)
      .call(d3.axisLeft(y).tickValues(vals).tickSize(0).tickPadding(3).tickFormat(d => String(d)));
    ax.select(".domain").remove();
    ax.selectAll("text").attr("font-size", 10).attr("font-family", "Liberation Sans, Arial, sans-serif");
  }
  // cos theta labels under the bottom row
  if (row === 4) {
    let vals = [-0.5, 0, 0.5];
    if (col === 0) vals = [-1].concat(vals);
    if (col === 4) vals = vals.concat([1]);
    const ax = g.append("g").attr("transform", `translate(0,${top + rowH})`)
      .call(d3.axisBottom(x).tickValues(vals).tickSize(0).tickPadding(3).tickFormat(d => String(d)));
    ax.select(".domain").remove();
    ax.selectAll("text").attr("font-size", 10).attr("font-family", "Liberation Sans, Arial, sans-serif");
  }
});

// separators to the left of the grid between observable groups
svg.append("line").attr("x1", 7).attr("x2", gridLeft).attr("y1", gridTop + 3 * rowH).attr("y2", gridTop + 3 * rowH)
  .attr("stroke", "#000").attr("stroke-width", 1.6);
svg.append("line").attr("x1", 7).attr("x2", gridLeft).attr("y1", gridTop + 4 * rowH).attr("y2", gridTop + 4 * rowH)
  .attr("stroke", "#888").attr("stroke-width", 2);

// observable names
rowObservables.forEach(([row, name]) => {
  svg.append("text")
    .attr("transform", `translate(16,${gridTop + row * rowH + 4}) rotate(-90)`)
    .attr("text-anchor", "end").attr("font-size", 12).attr("fill", "#000")
    .text(name);
});

// x-axis title: cos theta_pi0
const xt = svg.append("text").attr("x", 733).attr("y", 577).attr("font-size", 10.5).attr("fill", "#000");
xt.append("tspan").text("cos θ");
xt.append("tspan").attr("font-size", 7).attr("dy", 3).text("π");
xt.append("tspan").attr("font-size", 5).attr("dy", -3).text("0");

// legend
const legend = svg.append("g").attr("font-size", 15);
legend.append("circle").attr("cx", 23.5).attr("cy", 589).attr("r", 3.5).attr("fill", "#000");
legend.append("text").attr("x", 35).attr("y", 594).attr("fill", "#000").text("our data");
legend.append("circle").attr("cx", 121).attr("cy", 589).attr("r", 3.5).attr("fill", "#ff0000");
legend.append("text").attr("x", 133).attr("y", 594).attr("fill", "#ff0000").text("older data");
legendItems.forEach(([label, colour, lx]) => {
  legend.append("text").attr("x", lx).attr("y", 594).attr("fill", colour).text(label);
});
</script>
</body>
</html>
